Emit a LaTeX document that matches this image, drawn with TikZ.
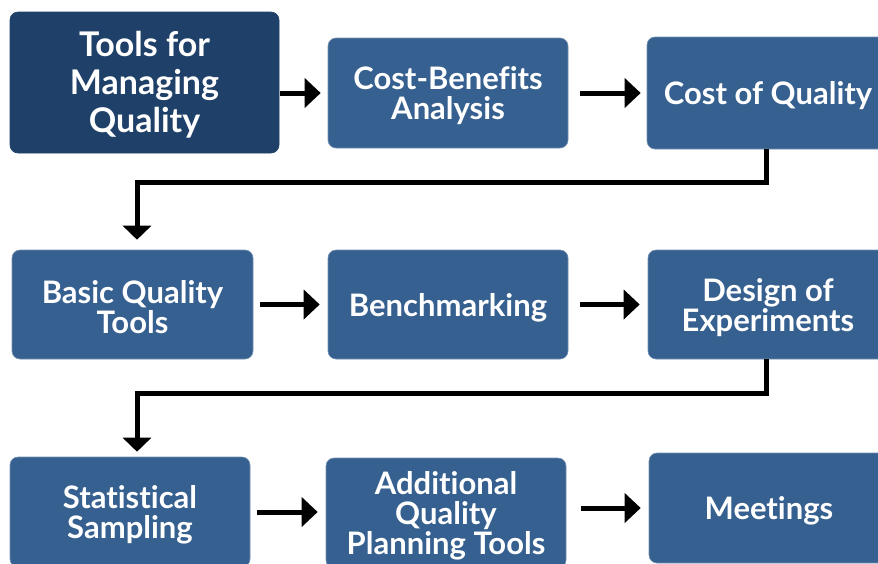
\documentclass[tikz,border=0pt]{standalone}
\usepackage{fontspec}
\setmainfont[Ligatures=NoCommon]{Lato}
\usetikzlibrary{arrows.meta,calc}
\definecolor{darkbox}{HTML}{1F4068}
\definecolor{midbox}{HTML}{36608F}
\tikzset{
  box/.style={rectangle, rounded corners=8pt, fill=midbox, draw=midbox!70!white, line width=0.6pt, inner sep=0pt},
  mainbox/.style={box, fill=darkbox, draw=darkbox},
  txt/.style={text=white, align=center, inner sep=0pt, font=\fontsize{31}{30}\selectfont\bfseries},
  maintxt/.style={txt, font=\fontsize{34}{38}\selectfont\bfseries},
  arr/.style={line width=5pt, -{Triangle[length=16pt,width=29pt]}},
  elb/.style={line width=5pt, -{Triangle[length=14pt,width=28pt]}}
}
\begin{document}
\begin{tikzpicture}[x=1pt,y=-1pt]
\useasboundingbox (0,0) rectangle (878,563);
\node[mainbox, minimum width=269pt, minimum height=141pt] (A) at (144.5,82.5) {};
\node[box, minimum width=240pt, minimum height=110pt] (B) at (448,93) {};
\node[box, minimum width=242pt, minimum height=112pt] (C) at (768,93) {};
\node[box, minimum width=241pt, minimum height=109pt] (D) at (132.5,304.5) {};
\node[box, minimum width=240pt, minimum height=109pt] (E) at (448,304.5) {};
\node[box, minimum width=240pt, minimum height=109pt] (F) at (768,304.5) {};
\node[box, minimum width=240pt, minimum height=110pt] (G) at (130,512) {};
\node[box, minimum width=240pt, minimum height=110pt] (H) at (446,513) {};
\node[box, minimum width=240pt, minimum height=110pt] (I) at (769,508) {};
% texts
\node[maintxt] (tA) at ([yshift=-2pt]A.center) {Tools for\\Managing\\Quality};
\node[txt] (tB) at ([yshift=-3pt]B.center) {Cost-Benefits\\Analysis};
\node[txt] (tC) at ([yshift=-3pt]C.center) {Cost of Quality};
\node[txt] (tD) at ([yshift=-3pt]D.center) {Basic Quality\\Tools};
\node[txt] (tE) at ([yshift=-3pt]E.center) {Benchmarking};
\node[txt] (tF) at ([yshift=-3pt]F.center) {Design of\\Experiments};
\node[txt] (tG) at ([yshift=-3pt]G.center) {Statistical\\Sampling};
\node[txt] (tH) at ([yshift=-3pt]H.center) {Additional\\Quality\\Planning Tools};
\node[txt] (tI) at ([yshift=-3pt]I.center) {Meetings};
% row 1
\draw[arr, shorten <=1pt, shorten >=7pt] (A.east |- B.west) -- (B.west);
\draw[arr, shorten <=12pt, shorten >=6pt] (B.east) -- (C.west);
% elbow 1
\draw[elb, shorten >=10pt] ([xshift=-2pt]C.south) -- ++(0,33) -| ([xshift=4.5pt]D.north);
% row 2
\draw[arr, shorten <=7pt, shorten >=8pt] (D.east) -- (E.west);
\draw[arr, shorten <=12pt, shorten >=8pt] (E.east) -- (F.west);
% elbow 2
\draw[elb, shorten >=5pt] ([xshift=-2pt]F.south) -- ++(0,34) -| ([xshift=7pt]G.north);
% row 3
\draw[arr, shorten <=7pt, shorten >=8pt] (G.east) -- (H.west |- G.east);
\draw[arr, shorten <=15pt, shorten >=8pt] (H.east |- I.west) -- (I.west);
\end{tikzpicture}
\end{document}
